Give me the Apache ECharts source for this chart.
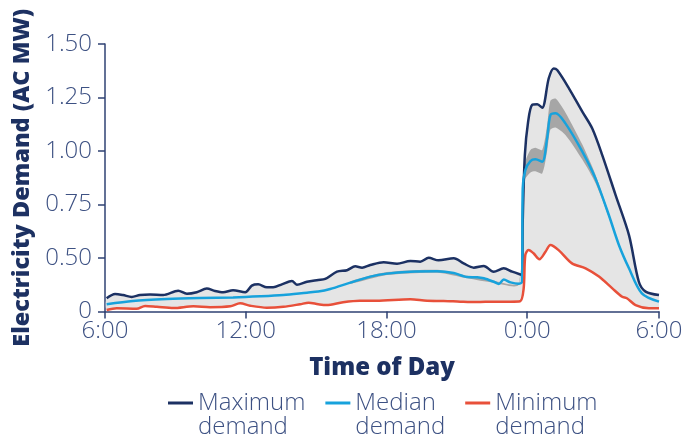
<!DOCTYPE html>
<html>
<head>
<meta charset="utf-8">
<script src="https://cdn.jsdelivr.net/npm/echarts@6/dist/echarts.min.js"></script>
<style>html,body{margin:0;padding:0;background:#fff}#c{width:696px;height:440px}</style>
</head>
<body>
<div id="c"></div>
<script>
// x = hour of day (24+ = next day), y = demand (AC MW)
var xTickLabels = ['6:00', '12:00', '18:00', '0:00', '6:00'];
var yTickLabels = ['0', '0.50', '0.75', '1.00', '1.25', '1.50'];
var seriesNames = ['Maximum\ndemand', 'Median\ndemand', 'Minimum\ndemand'];

var maxDemand = [
  [6.07,0.312],[6.43,0.332],[6.77,0.327],[7.14,0.318],[7.49,0.327],[7.92,0.330],[8.48,0.327],
  [9.12,0.347],[9.49,0.333],[9.91,0.340],[10.34,0.357],[10.69,0.346],[11.04,0.340],[11.46,0.349],
  [11.98,0.340],[12.26,0.371],[12.53,0.377],[12.90,0.363],[13.17,0.363],[13.54,0.377],[13.97,0.393],
  [14.18,0.375],[14.61,0.389],[15.09,0.397],[15.39,0.402],[15.89,0.436],[16.32,0.443],[16.67,0.461],
  [16.96,0.455],[17.31,0.467],[17.88,0.480],[18.45,0.473],[19.02,0.486],[19.44,0.483],[19.80,0.501],
  [20.22,0.489],[20.87,0.499],[21.29,0.475],[21.72,0.455],[22.15,0.463],[22.57,0.436],[23.00,0.452],
  [23.36,0.436],[23.68,0.424],[23.78,0.421],[23.81,0.670],[23.90,0.981],[24.04,1.137],[24.21,1.215],
  [24.43,1.218],[24.64,1.202],[24.92,1.340],[25.13,1.386],[25.28,1.378],[25.78,1.293],[26.35,1.184],
  [26.77,1.106],[27.20,0.981],[27.77,0.794],[28.34,0.607],[28.76,0.389],[29.05,0.343],[29.62,0.327]
];
var medianDemand = [
  [6.07,0.284],[7.19,0.299],[8.63,0.308],[10.05,0.313],[11.46,0.316],[12.62,0.321],[13.60,0.327],
  [14.61,0.338],[15.09,0.343],[15.60,0.355],[16.46,0.385],[17.31,0.413],[18.02,0.427],[19.02,0.436],
  [20.16,0.438],[20.87,0.430],[21.44,0.411],[21.87,0.410],[22.15,0.405],[22.57,0.389],[22.79,0.379],
  [23.00,0.399],[23.29,0.386],[23.64,0.380],[23.78,0.389],[23.81,0.826],[23.92,0.911],[24.14,0.953],
  [24.35,0.961],[24.64,0.950],[24.85,1.059],[24.99,1.168],[25.21,1.176],[25.63,1.129],[26.35,0.997],
  [26.91,0.872],[27.48,0.701],[27.91,0.561],[28.34,0.452],[28.89,0.335],[29.62,0.296]
];
var minDemand = [
  [6.07,0.257],[6.50,0.265],[7.35,0.263],[7.71,0.276],[8.21,0.272],[8.92,0.266],[9.77,0.274],
  [10.48,0.270],[11.34,0.274],[11.76,0.288],[12.19,0.277],[12.90,0.268],[13.60,0.272],[14.32,0.284],
  [14.68,0.291],[15.09,0.284],[15.44,0.280],[16.15,0.293],[16.86,0.300],[17.57,0.300],[19.02,0.307],
  [19.73,0.300],[20.44,0.299],[21.15,0.296],[21.86,0.294],[22.57,0.296],[23.29,0.296],[23.70,0.298],
  [23.85,0.358],[23.92,0.514],[24.06,0.537],[24.27,0.522],[24.52,0.494],[24.78,0.529],[24.99,0.561],
  [25.34,0.537],[25.91,0.475],[26.49,0.452],[27.06,0.413],[27.63,0.358],[28.05,0.319],[28.25,0.312],
  [28.62,0.280],[29.19,0.265],[29.62,0.265]
];
// spread band around the median: [hour, low, high]
var medianBand = [
  [16.46,0.379,0.391],[18.02,0.420,0.434],[20.16,0.431,0.445],[21.44,0.405,0.417],[22.57,0.384,0.394],
  [23.64,0.376,0.384],[23.81,0.800,0.850],[23.92,0.870,0.950],[24.14,0.900,1.005],[24.35,0.905,1.015],
  [24.64,0.895,1.005],[24.85,1.000,1.120],[24.99,1.100,1.235],[25.21,1.110,1.245],[25.63,1.075,1.180],
  [26.35,0.960,1.030],[26.91,0.850,0.890],[27.48,0.690,0.710],[27.91,0.555,0.567],[28.34,0.447,0.457]
];

var navy = '#1c3163', cyan = '#17a2dc', red = '#e8503a';
var axisCol = '#2f4273', labelCol = '#3d5183', titleCol = '#1d3162';
var FONT = 'Open Sans';

function polyItem(upper, lower, fill) {
  return function (params, api) {
    var pts = upper.map(function (p) { return api.coord(p); })
      .concat(lower.slice().reverse().map(function (p) { return api.coord(p); }));
    return { type: 'polygon', shape: { points: pts, smooth: 0.25 }, style: { fill: fill } };
  };
}

var chart = echarts.init(document.getElementById('c'), null, { renderer: 'canvas' });
chart.setOption({
  animation: false,
  grid: { left: 105, right: 37, top: 44, bottom: 128.5 },
  xAxis: {
    type: 'value', min: 6, max: 29.62, interval: 6,
    name: 'Time of Day', nameLocation: 'middle', nameGap: 45,
    nameTextStyle: { fontFamily: FONT, fontWeight: 800, fontSize: 24, color: titleCol },
    axisLine: { show: true, lineStyle: { color: axisCol, width: 1.5 } },
    axisTick: { show: true, length: 7, lineStyle: { color: axisCol, width: 1.5 } },
    axisLabel: {
      margin: 8, fontFamily: FONT, fontWeight: 300, fontSize: 24, color: labelCol,
      formatter: function (v) { return xTickLabels[Math.round((v - 6) / 6)]; }
    },
    splitLine: { show: false }
  },
  yAxis: {
    type: 'value', min: 0.25, max: 1.5, interval: 0.25,
    name: 'Electricity Demand (AC MW)', nameLocation: 'middle', nameGap: 65,
    nameTextStyle: { fontFamily: FONT, fontWeight: 800, fontSize: 23.5, color: titleCol },
    axisLine: { show: true, lineStyle: { color: axisCol, width: 1.5 } },
    axisTick: { show: true, length: 7, lineStyle: { color: axisCol, width: 1.5 } },
    axisLabel: {
      margin: 13, fontFamily: FONT, fontWeight: 300, fontSize: 24, color: labelCol,
      formatter: function (v) { return yTickLabels[Math.round((v - 0.25) / 0.25)]; }
    },
    splitLine: { show: false }
  },
  legend: {
    left: 168, top: 367, padding: 0, itemGap: 20, itemWidth: 25, itemHeight: 3,
    icon: 'rect',
    data: seriesNames,
    formatter: function (n) { return '\n' + n; },
    textStyle: { fontFamily: FONT, fontWeight: 300, fontSize: 24, lineHeight: 24, color: labelCol }
  },
  series: [
    { type: 'custom', name: 'range', silent: true, clip: true, z: 1,
      data: [[6, 0.3]], renderItem: polyItem(maxDemand, minDemand, '#e5e5e5') },
    { type: 'custom', name: 'band', silent: true, clip: true, z: 2,
      data: [[6, 0.3]],
      renderItem: polyItem(medianBand.map(function (b) { return [b[0], b[2]]; }),
                           medianBand.map(function (b) { return [b[0], b[1]]; }), '#a6a6a6') },
    { type: 'line', name: seriesNames[0], data: maxDemand, showSymbol: false, smooth: 0.3, z: 4,
      lineStyle: { color: navy, width: 2.5 }, itemStyle: { color: navy } },
    { type: 'line', name: seriesNames[1], data: medianDemand, showSymbol: false, smooth: 0.3, z: 4,
      lineStyle: { color: cyan, width: 2.5 }, itemStyle: { color: cyan } },
    { type: 'line', name: seriesNames[2], data: minDemand, showSymbol: false, smooth: 0.3, z: 4,
      lineStyle: { color: red, width: 2.5 }, itemStyle: { color: red } }
  ]
});
</script>
</body>
</html>
